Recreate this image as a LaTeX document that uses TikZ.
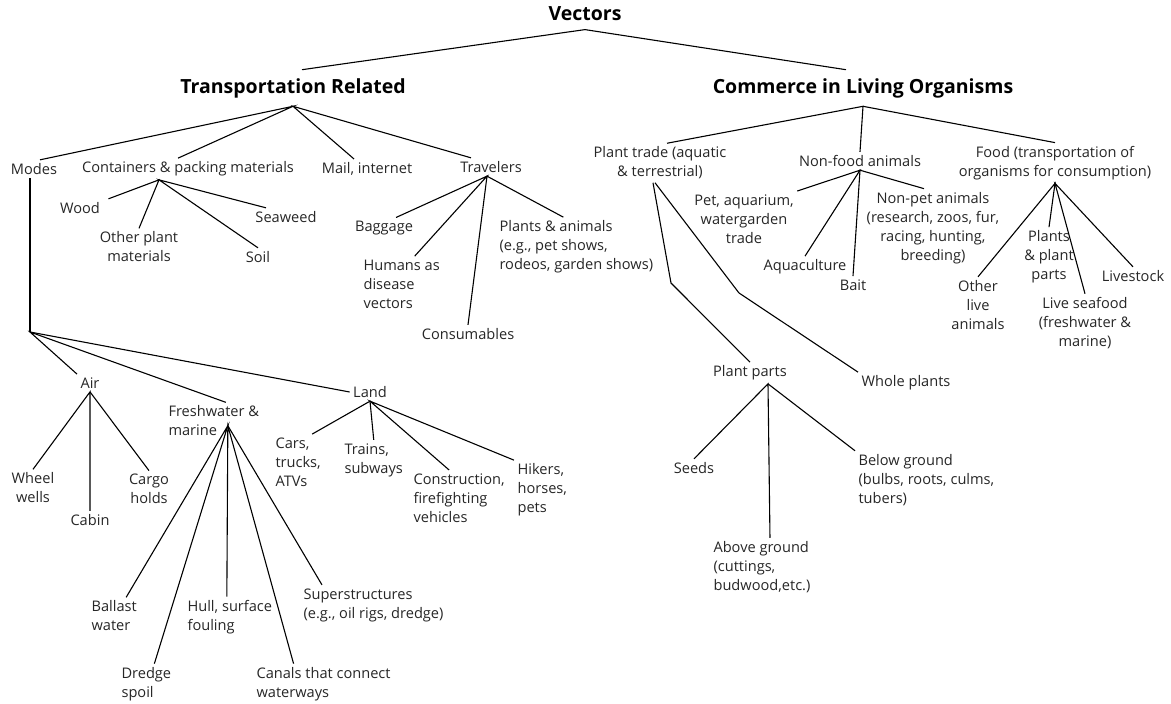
\documentclass[tikz,border=0pt]{standalone}
\usepackage{fontspec}
\setmainfont{Open Sans}

\begin{document}
\begin{tikzpicture}[x=1pt,y=-1pt,line width=1.1pt,
  head/.style={font=\fontsize{19.5}{23}\selectfont\bfseries,inner sep=8pt},
  lbl/.style={font=\fontsize{14.6}{19}\selectfont,text=black!85,inner sep=3pt},
  ctr/.style={lbl,align=center},
  lft/.style={lbl,align=left,anchor=west}]
\useasboundingbox (0,0) rectangle (1171,704);

\node[head] (vec) at (585,14) {Vectors};
\node[head] (tr) at (293,88) {Transportation Related};
\node[head] (clo) at (863,88) {Commerce in Living Organisms};

\node[lbl] (modes) at (34,169) {Modes};
\node[lbl] (cont) at (188,169) {Containers \& packing materials};
\node[lbl] (mail) at (367,169) {Mail, internet};
\node[lbl] (trav) at (491,167) {Travelers};

\node[lbl] (wood) at (80,208) {Wood};
\node[ctr] (other) at (139,247) {Other plant\\materials};
\node[lbl] (soil) at (258,257) {Soil};
\node[lbl] (seaweed) at (286,217) {Seaweed};

\node[lbl] (baggage) at (384,228) {Baggage};
\node[lft] (humans) at (360,284) {Humans as\\disease\\vectors};
\node[lbl] (cons) at (468,334) {Consumables};
\node[lft] (plants) at (496,247) {Plants \& animals\\(e.g., pet shows,\\rodeos, garden shows)};

\coordinate (fork) at (30,332);
\node[lbl] (air) at (90,383) {Air};
\node[lft] (fresh) at (165,421) {Freshwater \&\\marine};
\node[lbl] (land) at (370,392) {Land};

\node[ctr] (wheel) at (33,488) {Wheel\\wells};
\node[lbl] (cabin) at (90,520) {Cabin};
\node[ctr] (cargo) at (149,489) {Cargo\\holds};

\node[lft] (ballast) at (88,616) {Ballast\\water};
\node[lft] (dredge) at (118,684) {Dredge\\spoil};
\node[lft] (hull) at (184,617) {Hull, surface\\fouling};
\node[lft] (canals) at (253,684) {Canals that connect\\waterways};
\node[lft] (super) at (300,605) {Superstructures\\(e.g., oil rigs, dredge)};

\node[lft] (cars) at (272,462) {Cars,\\trucks,\\ATVs};
\node[lft] (trains) at (341,460) {Trains,\\subways};
\node[lft] (constr) at (410,498) {Construction,\\firefighting\\vehicles};
\node[lft] (hikers) at (514,490) {Hikers,\\horses,\\pets};

\node[ctr] (ptrade) at (660,163) {Plant trade (aquatic\\\& terrestrial)};
\node[lbl] (nonfood) at (860,161) {Non-food animals};
\node[ctr] (food) at (1055,163) {Food (transportation of\\organisms for consumption)};

\node[ctr] (pet) at (744,219) {Pet, aquarium,\\watergarden\\trade};
\node[ctr] (nonpet) at (933,228) {Non-pet animals\\(research, zoos, fur,\\racing, hunting,\\breeding)};
\node[lbl] (aqua) at (805,267) {Aquaculture};
\node[lbl] (bait) at (853,285) {Bait};

\node[ctr] (otherlive) at (978,305) {Other\\live\\animals};
\node[ctr] (pplants) at (1049,257) {Plants\\\& plant\\parts};
\node[ctr] (seafood) at (1085,323) {Live seafood\\(freshwater \&\\marine)};
\node[lbl] (livestock) at (1133,276) {Livestock};

\coordinate (bendA) at (671,283);
\coordinate (bendB) at (739,293);
\node[lbl] (pparts) at (750,373) {Plant parts};
\node[lbl] (whole) at (906,383) {Whole plants};

\node[lbl] (seeds) at (694,468) {Seeds};
\node[lft] (above) at (710,567) {Above ground\\(cuttings,\\budwood,etc.)};
\node[lft] (below) at (855,480) {Below ground\\(bulbs, roots, culms,\\tubers)};

\draw ([xshift=9pt]tr.north) -- (vec.south) -- ([xshift=-17pt]clo.north);

\draw ([xshift=6pt]modes.north) -- (tr.south) -- ([xshift=-10pt]cont.north);
\draw ([xshift=-13pt]mail.north) -- (tr.south) -- ([xshift=-20pt]trav.north);
\draw ([xshift=5pt]wood.north east) -- ([xshift=-29pt]cont.south) -- (other.north);
\draw (soil.north) -- ([xshift=-29pt]cont.south) -- ([xshift=-20pt]seaweed.north);
\draw ([xshift=12pt]baggage.north) -- ([xshift=-4pt]trav.south) -- ([xshift=13pt]humans.north);
\draw (cons.north) -- ([xshift=-4pt]trav.south) -- ([xshift=-13pt]plants.north);

\draw ([xshift=-4pt]modes.south) -- (fork);
\draw (air.north west) -- (fork) -- ([xshift=12pt]fresh.north);
\draw (fork) -- (land.west);
\draw (wheel.north) -- (air.south) -- (cabin.north);
\draw (air.south) -- (cargo.north);
\draw ([xshift=12pt]ballast.north) -- ([xshift=14pt,yshift=14pt]fresh.south) -- ([xshift=8pt]dredge.north);
\draw ([xshift=-3pt]hull.north) -- ([xshift=14pt,yshift=14pt]fresh.south) -- ([xshift=-30pt]canals.north);
\draw ([xshift=14pt,yshift=14pt]fresh.south) -- ([xshift=22pt]super.north west);
\draw ([xshift=14pt]cars.north) -- (land.south) -- (trains.north);
\draw ([xshift=-10pt]constr.north) -- (land.south) -- (hikers.north west);

\draw ([xshift=7pt]ptrade.north) -- (clo.south) -- (nonfood.north);
\draw (clo.south) -- (food.north);
\draw ([xshift=-7pt]ptrade.south) -- (bendA) -- (pparts.north);
\draw ([xshift=-5pt]ptrade.south) -- (bendB) -- (whole.north west);
\draw (pet.north east) -- (nonfood.south) -- (aqua.north);
\draw (bait.north) -- (nonfood.south) -- ([xshift=-9pt]nonpet.north);
\draw (otherlive.north) -- (food.south) -- (pplants.north);
\draw (seafood.north) -- (food.south) -- (livestock.north);
\draw (seeds.north) -- ([xshift=18pt]pparts.south) -- ([xshift=8pt]above.north);
\draw ([xshift=18pt]pparts.south) -- (below.north west);
\end{tikzpicture}
\end{document}
